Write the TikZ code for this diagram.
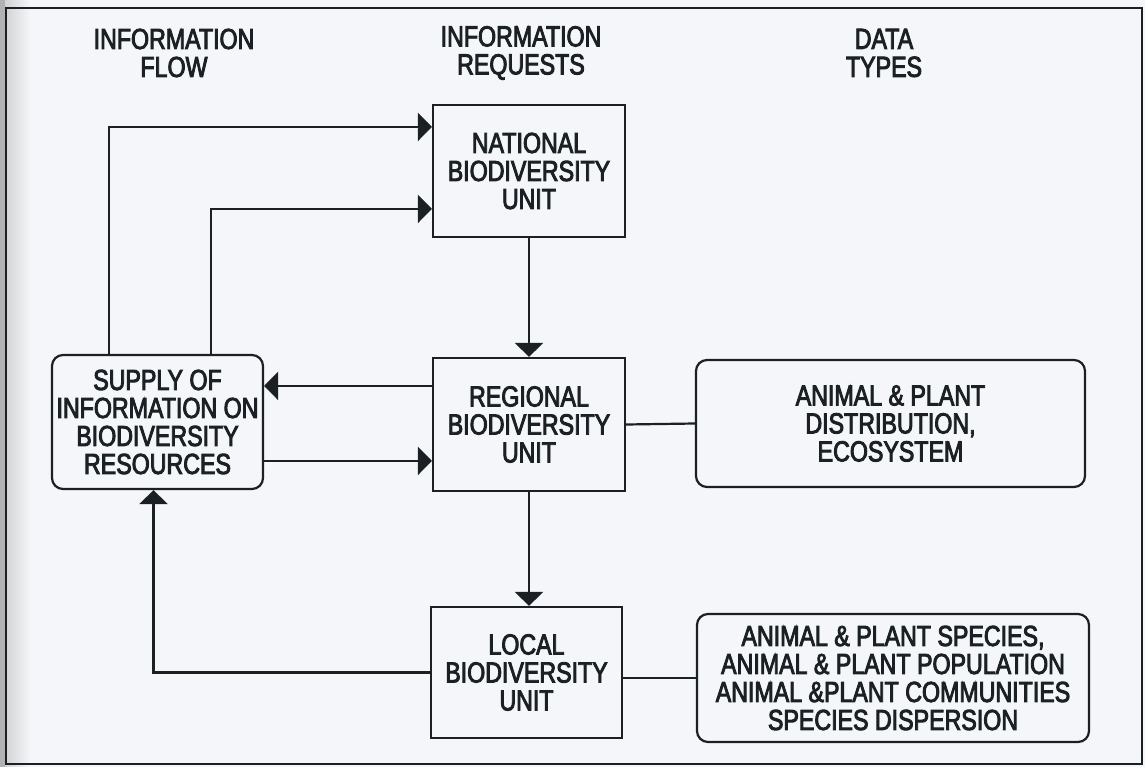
\documentclass[tikz,border=0pt]{standalone}
\usepackage{fontspec}
\setmainfont{Liberation Sans}[FakeStretch=0.8,FakeBold=3]
\usetikzlibrary{arrows.meta,calc}
\definecolor{ink}{HTML}{1A2024}
\definecolor{paper}{HTML}{F4F6F9}
\begin{document}
\begin{tikzpicture}[x=1pt,y=-1pt,
  every node/.style={text=ink},
  lbl/.style={align=center,font=\fontsize{29}{28}\selectfont},
  unitbox/.style={draw=ink,line width=2.2pt,fill=paper,align=center,
    minimum width=#1,font=\fontsize{29}{28}\selectfont,inner sep=0pt},
  roundbox/.style={unitbox=#1,rounded corners=11pt},
  link/.style={draw=ink,line width=2.2pt},
  arr/.style={link,-{Triangle[length=14pt,width=28pt]}}]
\useasboundingbox (0,0) rectangle (1145,767);
% paper and scanner edge
\fill[paper] (0,0) rectangle (1145,767);
\shade[left color=gray!40,right color=paper] (0,0) rectangle (30,767);
\fill[gray!60] (0,0) rectangle (5,767);
% frame
\draw[ink,line width=2.4pt] (6,8) -- (1142,8) -- (1142,764) -- (6,764) -- cycle;

% column headings
\node[lbl] (hflow) at (174,53) {INFORMATION\\FLOW};
\node[lbl] (hreq)  at (521,53) {INFORMATION\\REQUESTS};
\node[lbl] (htype) at (884,53) {DATA\\TYPES};

% units
\node[unitbox=192pt,minimum height=132pt] (national) at (529,171)
  {NATIONAL\\BIODIVERSITY\\UNIT};
\node[unitbox=192pt,minimum height=133pt] (regional) at (529,424.5)
  {REGIONAL\\BIODIVERSITY\\UNIT};
\node[unitbox=191pt,minimum height=131pt] (local) at (526.5,672.5)
  {LOCAL\\BIODIVERSITY\\UNIT};
\node[roundbox=211pt,minimum height=134pt] (supply) at (157.5,422)
  {SUPPLY OF\\INFORMATION ON\\BIODIVERSITY\\RESOURCES};
\node[roundbox=389pt,minimum height=127pt] (dist) at (890.5,423.5)
  {ANIMAL \& PLANT\\DISTRIBUTION,\\ECOSYSTEM};
\node[roundbox=392pt,minimum height=128pt] (species) at (893,678)
  {ANIMAL \& PLANT SPECIES,\\ANIMAL \& PLANT POPULATION\\ANIMAL \&PLANT COMMUNITIES\\SPECIES DISPERSION};

% attachment points
\coordinate (s1) at ($(supply.north west)+(58,0)$);
\coordinate (s2) at ($(supply.north west)+(160,0)$);
\coordinate (n1) at ($(national.north west)+(0,23)$);
\coordinate (n2) at ($(national.north west)+(0,105)$);
\coordinate (r1) at ($(regional.north west)+(0,29)$);
\coordinate (r2) at ($(regional.north west)+(0,104)$);
\coordinate (s3) at ($(supply.south)+(-4,0)$);

% information flow
\draw[arr] (s1) |- (n1);
\draw[arr] (s2) |- (n2);
\draw[arr] (national.south) -- (regional.north);
\draw[arr] (r1) -- (r1 -| supply.east);
\draw[arr] (r2 -| supply.east) -- (r2);
\draw[arr] (regional.south) -- (regional.south |- local.north);
\draw[arr] (local.west) -| (s3);

% data types
\draw[link] (regional.east) -- (dist.west);
\draw[link] (species.west -| local.east) -- (species.west);
\end{tikzpicture}
\end{document}
